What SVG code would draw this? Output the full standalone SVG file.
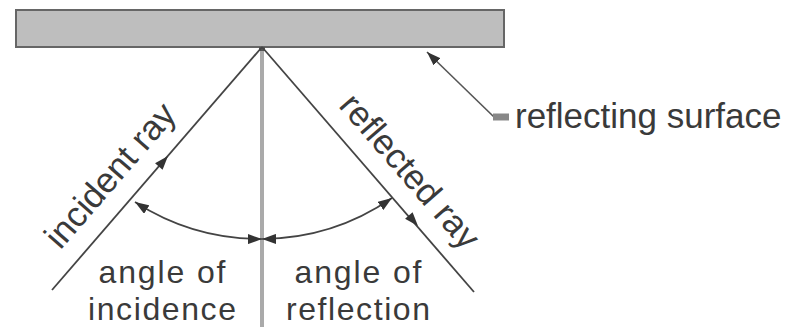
<svg xmlns="http://www.w3.org/2000/svg" xmlns:xlink="http://www.w3.org/1999/xlink" width="800" height="327" viewBox="0 0 800 327">
<style>
.lbl{font-family:"Liberation Sans",Arial,sans-serif;font-size:35px;fill:#3a3a3a}
.sm{font-size:32px}
.mid{text-anchor:middle}
.ray{stroke:#444;stroke-width:1.8;fill:none}
.arc{stroke:#444;stroke-width:1.7;fill:none;marker-start:url(#ah);marker-end:url(#ah)}
</style>
<defs>
<marker id="ah" viewBox="0 0 14 10" refX="14" refY="5" markerWidth="14" markerHeight="10" markerUnits="userSpaceOnUse" orient="auto-start-reverse">
<path d="M0,0 L14,5 L0,10 Z" fill="#333"/>
</marker>
<path id="tri" d="M0,0 L-14,-5 L-14,5 Z" fill="#333"/>
</defs>
<rect width="800" height="327" fill="#fff"/>
<g id="surface">
<rect x="16" y="10" width="488" height="37" fill="#bebebe" stroke="#666" stroke-width="2"/>
</g>
<g id="normal">
<line x1="262" y1="47" x2="262" y2="327" stroke="#aaa" stroke-width="4"/>
<rect x="259" y="47" width="6" height="4" fill="#555"/>
</g>
<g id="connectors">
<line class="ray" x1="262" y1="47" x2="52" y2="290"/>
<line class="ray" x1="262" y1="47" x2="474" y2="292"/>
<use xlink:href="#tri" transform="translate(168,156) rotate(-49)"/>
<use xlink:href="#tri" transform="translate(418,226) rotate(49)"/>
<path class="arc" d="M135,202 A232,232 0 0 0 262,239"/>
<path class="arc" d="M262,239 A232,232 0 0 0 392,198"/>
<path d="M494,117 L427,52" stroke="#555" stroke-width="1.6" fill="none" marker-end="url(#ah)"/>
<line x1="493" y1="117" x2="509" y2="117" stroke="#888" stroke-width="7"/>
</g>
<g id="label-surface">
<text class="lbl" x="515" y="128">reflecting surface</text>
</g>
<g id="label-incident-ray">
<text class="lbl mid" transform="translate(119,183) rotate(-49)">incident ray</text>
</g>
<g id="label-reflected-ray">
<text class="lbl mid" transform="translate(401,179) rotate(49)">reflected ray</text>
</g>
<g id="label-incidence">
<text class="lbl sm mid" x="162" y="283" textLength="127" lengthAdjust="spacing">angle of</text>
<text class="lbl sm mid" x="162" y="320" textLength="148" lengthAdjust="spacing">incidence</text>
</g>
<g id="label-reflection">
<text class="lbl sm mid" x="358" y="283" textLength="127" lengthAdjust="spacing">angle of</text>
<text class="lbl sm mid" x="358" y="320" textLength="144" lengthAdjust="spacing">reflection</text>
</g>
</svg>
